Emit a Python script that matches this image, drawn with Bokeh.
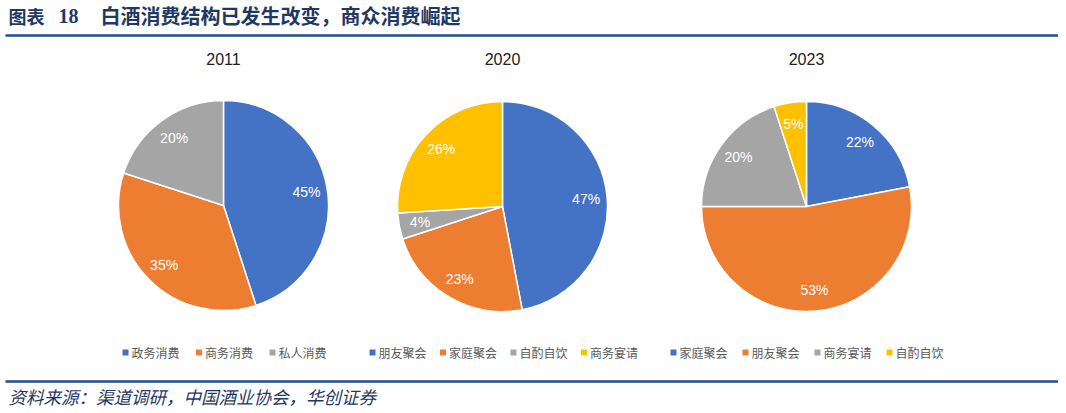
import math
from bokeh.plotting import figure
from bokeh.models import Range1d, ColumnDataSource
from bokeh.core.properties import value
from bokeh.embed import file_html
from bokeh.resources import INLINE

# ---------------- data ----------------
years = ["2011", "2020", "2023"]
cats_2011 = ["政务消费", "商务消费", "私人消费"]
vals_2011 = [45, 35, 20]
cats_2020 = ["朋友聚会", "家庭聚会", "自酌自饮", "商务宴请"]
vals_2020 = [47, 23, 4, 26]
cats_2023 = ["家庭聚会", "朋友聚会", "商务宴请", "自酌自饮"]
vals_2023 = [22, 53, 20, 5]

title_tag = "图表"
title_num = "18"
title_text = "白酒消费结构已发生改变，商众消费崛起"
source_text = "资料来源：渠道调研，中国酒业协会，华创证券"

# ---------------- style / layout ----------------
COLORS = ["#4472C4", "#ED7D31", "#A5A5A5", "#FFC000"]
W, H = 1058, 413
SY = 413  # screen -> data flip


def Y(ys):
    return SY - ys


CJK = value("Noto Sans CJK SC")
LAT = value("Liberation Sans")

p = figure(width=W, height=H, output_backend="svg", toolbar_location=None,
           x_range=Range1d(0, W), y_range=Range1d(SY - H, SY),
           x_axis_location=None, y_axis_location=None, min_border=0,
           outline_line_color=None, background_fill_color="white",
           border_fill_color="white")
p.grid.visible = False

# header / footer
p.text(x=[8], y=[Y(15)], text=[title_tag], text_font=CJK, text_font_style="bold",
       text_font_size="18px", text_color="#1F3864", text_baseline="middle")
p.text(x=[58], y=[Y(15)], text=[title_num], text_font=value("Liberation Serif"),
       text_font_style="bold", text_font_size="20px", text_color="#1F3864",
       text_baseline="middle")
p.text(x=[100], y=[Y(15)], text=[title_text], text_font=CJK, text_font_style="bold",
       text_font_size="20px", text_color="#1F3864", text_baseline="middle")
p.segment(x0=[5], y0=[Y(35)], x1=[1060], y1=[Y(35)], line_color="#1F4E8F", line_width=2.5)
p.segment(x0=[5], y0=[Y(381)], x1=[1060], y1=[Y(381)], line_color="#1F4E8F", line_width=2.5)
p.text(x=[8], y=[Y(396)], text=[source_text], text_font=CJK, text_font_style="italic",
       text_font_size="17.5px", text_color="#1F3864", text_baseline="middle")

centers = [(223, 205), (502, 206), (806, 206)]
R = 105
legend_x0 = [125, 372, 673]
legend_step = [73.5, 70.5, 72]
all_cats = [cats_2011, cats_2020, cats_2023]
all_vals = [vals_2011, vals_2020, vals_2023]

for k, (yr, cats, vals) in enumerate(zip(years, all_cats, all_vals)):
    cx, cy = centers[k]
    total = float(sum(vals))
    starts, ends, lx, ly, labels = [], [], [], [], []
    cum = 0.0
    for v in vals:
        a0 = math.pi / 2 - 2 * math.pi * cum / total
        a1 = math.pi / 2 - 2 * math.pi * (cum + v) / total
        mid = (a0 + a1) / 2
        starts.append(a0)
        ends.append(a1)
        lx.append(cx + 0.8 * R * math.cos(mid))
        ly.append(Y(cy) + 0.8 * R * math.sin(mid))
        labels.append(f"{v}%")
        cum += v
    src = ColumnDataSource(dict(start=starts, end=ends, color=COLORS[:len(vals)],
                                x=[cx] * len(vals), y=[Y(cy)] * len(vals)))
    p.wedge(x="x", y="y", radius=R, start_angle="start", end_angle="end",
            direction="clock", fill_color="color", line_color="white",
            line_width=1.5, source=src)
    p.text(x=lx, y=ly, text=labels, text_font=LAT, text_font_size="14px",
           text_color="white", text_align="center", text_baseline="middle")
    p.text(x=[cx], y=[Y(58)], text=[yr], text_font=LAT, text_font_size="16px",
           text_color="#222222", text_align="center", text_baseline="middle")
    # legend
    sx = [legend_x0[k] + i * legend_step[k] for i in range(len(cats))]
    p.scatter(x=sx, y=[Y(352)] * len(cats), marker="square", size=6,
              fill_color=COLORS[:len(cats)], line_color=None)
    p.text(x=[s + 6 for s in sx], y=[Y(352)] * len(cats), text=cats, text_font=CJK,
           text_font_size="12px", text_color="#595959", text_baseline="middle")

open("out.html", "w").write(file_html(p, INLINE))
